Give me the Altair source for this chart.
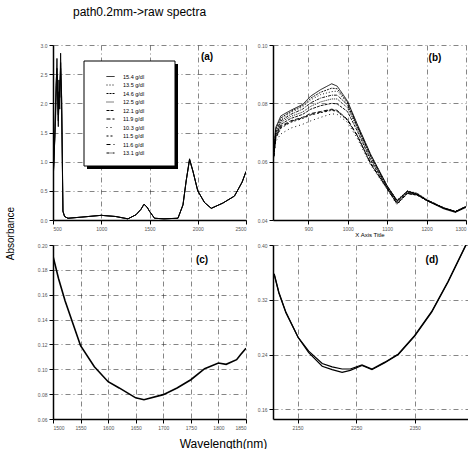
import altair as alt
import pandas as pd

TITLE = "path0.2mm->raw spectra"
Y_TITLE = "Absorbance"
X_TITLE = "Wavelength(nm)"
B_X_TITLE = "X Axis Title"
PANEL_LABELS = ["(a)", "(b)", "(c)", "(d)"]

# ---------------- panel (a): full raw spectra ----------------
A_NM = [500, 510, 520, 530, 541, 548, 555, 562, 570, 579, 590, 603, 620, 655, 800,
        1000, 1150, 1276, 1360, 1410, 1443, 1475, 1500, 1552, 1650, 1795, 1847, 1880,
        1915, 1950, 2000, 2070, 2140, 2260, 2380, 2417, 2460, 2500]
A_ABS_1 = [0.72, 1.0, 1.5, 2.1, 2.77, 2.2, 1.8, 2.4, 2.1, 2.86, 2.0, 0.15, 0.06, 0.03, 0.05,
           0.08, 0.06, 0.02, 0.09, 0.18, 0.27, 0.22, 0.15, 0.03, 0.02, 0.03, 0.26, 0.67,
           1.05, 0.84, 0.5, 0.3, 0.2, 0.29, 0.41, 0.52, 0.65, 0.83]
A_ABS_2 = [0.70, 0.95, 1.6, 2.3, 2.6, 2.0, 1.6, 2.2, 1.9, 2.7, 1.8, 0.14, 0.06, 0.03, 0.05,
           0.08, 0.06, 0.02, 0.09, 0.18, 0.27, 0.22, 0.15, 0.03, 0.02, 0.03, 0.26, 0.67,
           1.03, 0.83, 0.5, 0.3, 0.2, 0.29, 0.41, 0.52, 0.65, 0.83]
A_ABS_3 = [0.74, 1.1, 1.4, 1.9, 2.5, 2.4, 1.7, 2.0, 2.3, 2.6, 2.1, 0.16, 0.06, 0.03, 0.05,
           0.08, 0.06, 0.02, 0.09, 0.18, 0.27, 0.22, 0.15, 0.03, 0.02, 0.03, 0.26, 0.67,
           1.04, 0.84, 0.5, 0.3, 0.2, 0.29, 0.41, 0.52, 0.65, 0.83]
A_X_TICKS = [500, 1000, 1500, 2000, 2500]
A_Y_TICKS = [0.0, 0.5, 1.0, 1.5, 2.0, 2.5, 3.0]

# ---------------- panel (b): 810-1300 nm ----------------
SERIES = ["15.4 g/dl", "13.5 g/dl", "14.6 g/dl", "12.5 g/dl", "12.1 g/dl",
          "11.9 g/dl", "10.3 g/dl", "11.5 g/dl", "11.6 g/dl", "13.1 g/dl"]
B_NM = [810, 817, 830, 855, 885, 906, 931, 959, 973, 999, 1024, 1058, 1100, 1125,
        1151, 1176, 1201, 1244, 1273, 1300]
B_154 = [0.0603, 0.0717, 0.0757, 0.0776, 0.0796, 0.0825, 0.0847, 0.0867, 0.0859, 0.0808,
         0.0728, 0.0625, 0.0517, 0.0466, 0.0498, 0.0489, 0.0466, 0.0438, 0.0426, 0.0443]
B_135 = [0.0600, 0.0705, 0.0745, 0.0768, 0.0788, 0.0812, 0.0830, 0.0840, 0.0842, 0.0800,
         0.0722, 0.0620, 0.0515, 0.0468, 0.0500, 0.0492, 0.0470, 0.0442, 0.0430, 0.0447]
B_146 = [0.0601, 0.0712, 0.0750, 0.0772, 0.0792, 0.0818, 0.0838, 0.0852, 0.0850, 0.0804,
         0.0725, 0.0623, 0.0516, 0.0467, 0.0499, 0.0490, 0.0468, 0.0440, 0.0428, 0.0445]
B_125 = [0.0598, 0.0695, 0.0735, 0.0755, 0.0770, 0.0790, 0.0805, 0.0815, 0.0815, 0.0785,
         0.0715, 0.0612, 0.0512, 0.0462, 0.0496, 0.0488, 0.0468, 0.0441, 0.0429, 0.0446]
B_121 = [0.0596, 0.0690, 0.0728, 0.0748, 0.0762, 0.0780, 0.0792, 0.0800, 0.0798, 0.0772,
         0.0705, 0.0605, 0.0510, 0.0460, 0.0494, 0.0487, 0.0467, 0.0440, 0.0428, 0.0445]
B_119 = [0.0595, 0.0685, 0.0722, 0.0740, 0.0752, 0.0765, 0.0772, 0.0780, 0.0776, 0.0745,
         0.0690, 0.0595, 0.0508, 0.0456, 0.0492, 0.0486, 0.0467, 0.0441, 0.0429, 0.0446]
B_103 = [0.0592, 0.0670, 0.0695, 0.0715, 0.0728, 0.0740, 0.0752, 0.0764, 0.0762, 0.0735,
         0.0680, 0.0588, 0.0505, 0.0452, 0.0490, 0.0485, 0.0466, 0.0440, 0.0428, 0.0445]
B_115 = [0.0594, 0.0680, 0.0715, 0.0735, 0.0748, 0.0760, 0.0768, 0.0776, 0.0772, 0.0742,
         0.0688, 0.0592, 0.0507, 0.0455, 0.0491, 0.0485, 0.0466, 0.0440, 0.0428, 0.0445]
B_116 = [0.0594, 0.0682, 0.0718, 0.0738, 0.0750, 0.0762, 0.0770, 0.0778, 0.0774, 0.0744,
         0.0689, 0.0594, 0.0507, 0.0455, 0.0491, 0.0486, 0.0467, 0.0441, 0.0429, 0.0446]
B_131 = [0.0599, 0.0700, 0.0740, 0.0762, 0.0780, 0.0802, 0.0818, 0.0828, 0.0828, 0.0795,
         0.0720, 0.0617, 0.0514, 0.0465, 0.0498, 0.0490, 0.0469, 0.0441, 0.0429, 0.0446]
B_ALL = [B_154, B_135, B_146, B_125, B_121, B_119, B_103, B_115, B_116, B_131]
B_X_TICKS = [900, 1000, 1100, 1200, 1300]
B_Y_TICKS = [0.04, 0.06, 0.08, 0.10]

# ---------------- panel (c): 1500-1850 nm ----------------
C_NM = [1500, 1510, 1522, 1550, 1575, 1600, 1620, 1650, 1665, 1700, 1725, 1750, 1775,
        1800, 1814, 1833, 1840, 1850]
C_ABS = [0.191, 0.173, 0.155, 0.119, 0.102, 0.090, 0.085, 0.077, 0.0755, 0.0796, 0.085,
         0.0916, 0.1005, 0.105, 0.104, 0.1077, 0.1117, 0.117]
C_X_TICKS = [1500, 1550, 1600, 1650, 1700, 1750, 1800, 1850]
C_Y_TICKS = [0.06, 0.08, 0.10, 0.12, 0.14, 0.16, 0.18, 0.20]

# ---------------- panel (d): 2108-2441 nm ----------------
D_NM = [2110, 2118, 2130, 2151, 2169, 2192, 2209, 2226, 2240, 2260, 2277, 2299, 2322,
        2350, 2379, 2407, 2440]
D_ABS_1 = [0.358, 0.331, 0.302, 0.265, 0.243, 0.223, 0.218, 0.214, 0.217, 0.224, 0.218,
           0.228, 0.240, 0.267, 0.302, 0.346, 0.404]
D_ABS_2 = [0.357, 0.330, 0.301, 0.265, 0.245, 0.227, 0.222, 0.219, 0.219, 0.225, 0.219,
           0.229, 0.241, 0.268, 0.303, 0.347, 0.405]
D_X_TICKS = [2150, 2250, 2350]
D_Y_TICKS = [0.16, 0.24, 0.32, 0.40]

FONT = "Liberation Sans"


def axis(values, fmt, **kw):
    base = dict(values=values, format=fmt, labelFontSize=5, labelColor="#555",
                labelFont=FONT, domainColor="black", domainWidth=1.5, tickColor="black",
                tickSize=4, tickWidth=1, grid=True, gridColor="#333",
                gridDash=[5, 3, 1, 3], gridWidth=0.8, gridOpacity=0.75,
                labelPadding=2, title=None)
    base.update(kw)
    return alt.Axis(**base)


def scale(dom):
    return alt.Scale(domain=dom, nice=False, zero=False)


def label(txt, x, y):
    return alt.Chart(pd.DataFrame({"t": [txt]})).mark_text(
        fontSize=10, font=FONT, fontWeight="bold", color="black"
    ).encode(text="t:N", x=alt.value(x), y=alt.value(y))


def long_df(x, ys, names):
    rows = []
    for n, yy in zip(names, ys):
        for a, b in zip(x, yy):
            rows.append({"nm": a, "abs": b, "series": n})
    return pd.DataFrame(rows)


# panel (a)
dfA = long_df(A_NM, [A_ABS_1, A_ABS_2, A_ABS_3], ["s1", "s2", "s3"])
lineA = alt.Chart(dfA).mark_line(color="black", strokeWidth=0.9, clip=True).encode(
    x=alt.X("nm:Q", scale=scale([500, 2500]), axis=axis(A_X_TICKS, "d")),
    y=alt.Y("abs:Q", scale=scale([0, 3]),
            axis=axis(A_Y_TICKS, ".1f", title=Y_TITLE, titleX=-38, titleY=188,
                      titleFontSize=10, titleFont=FONT, titleFontWeight="normal",
                      titleColor="black")),
    detail="series:N",
)
one = pd.DataFrame({"k": [0]})
shadow = alt.Chart(one).mark_rect(color="black").encode(
    x=alt.value(34), x2=alt.value(125), y=alt.value(19), y2=alt.value(124))
box = alt.Chart(one).mark_rect(fill="white", stroke="black", strokeWidth=1).encode(
    x=alt.value(31), x2=alt.value(122), y=alt.value(16), y2=alt.value(121))
panelA = alt.layer(lineA, shadow, box, label(PANEL_LABELS[0], 154, 12)).properties(
    width=193, height=175)

# panel (b)
dfB = long_df(B_NM, B_ALL, SERIES)
dashes = [[1, 0], [1, 2], [2, 1], [1, 1], [3, 1], [4, 2], [1, 3], [2, 2], [4, 3], [3, 1, 1, 1]]
lineB = alt.Chart(dfB).mark_line(color="black", strokeWidth=0.9, clip=True).encode(
    x=alt.X("nm:Q", scale=scale([810, 1300]),
            axis=axis(B_X_TICKS, "d", title=B_X_TITLE, titleFontSize=6, titleFont=FONT,
                      titleFontWeight="normal", titleColor="black", titlePadding=0)),
    y=alt.Y("abs:Q", scale=scale([0.04, 0.10]), axis=axis(B_Y_TICKS, ".2f")),
    strokeDash=alt.StrokeDash(
        "series:N", scale=alt.Scale(domain=SERIES, range=dashes),
        legend=alt.Legend(orient="none", legendX=53, legendY=27, title=None,
                          labelFontSize=5.5, labelFont=FONT, labelColor="black",
                          symbolType="stroke", symbolStrokeColor="black",
                          symbolStrokeWidth=1, symbolSize=64, rowPadding=0.5,
                          padding=0, labelOffset=8)),
)
panelB = alt.layer(lineB, label(PANEL_LABELS[1], 162, 13)).properties(width=193, height=175)

# panel (c)
dfC = pd.DataFrame({"nm": C_NM, "abs": C_ABS})
lineC = alt.Chart(dfC).mark_line(color="black", strokeWidth=1.6, clip=True).encode(
    x=alt.X("nm:Q", scale=scale([1500, 1850]),
            axis=axis(C_X_TICKS, "d", title=X_TITLE, titleX=170, titleY=19,
                      titleFontSize=12, titleFont=FONT, titleFontWeight="normal",
                      titleColor="black")),
    y=alt.Y("abs:Q", scale=scale([0.06, 0.20]), axis=axis(C_Y_TICKS, ".2f")),
)
panelC = alt.layer(lineC, label(PANEL_LABELS[2], 149, 15)).properties(width=193, height=174)

# panel (d)
dfD = long_df(D_NM, [D_ABS_1, D_ABS_2], ["d1", "d2"])
lineD = alt.Chart(dfD).mark_line(color="black", strokeWidth=1.2, clip=True).encode(
    x=alt.X("nm:Q", scale=scale([2108, 2441]), axis=axis(D_X_TICKS, "d")),
    y=alt.Y("abs:Q", scale=scale([0.146, 0.40]), axis=axis(D_Y_TICKS, ".2f")),
    detail="series:N",
)
panelD = alt.layer(lineD, label(PANEL_LABELS[3], 159, 15)).properties(width=195, height=174)

chart = alt.concat(panelA, panelB, panelC, panelD, columns=2,
                   spacing=alt.RowColnumber(row=25, column=27), bounds="flush").properties(
    title=alt.TitleParams(TITLE, anchor="start", fontSize=12, font=FONT,
                          fontWeight="normal", color="black", dx=68, offset=24),
    padding={"left": 5, "top": 6, "right": 0, "bottom": 0},
    background="white",
).configure_view(stroke=None)

chart.save("out.html", embed_options={"renderer": "svg", "actions": False})
